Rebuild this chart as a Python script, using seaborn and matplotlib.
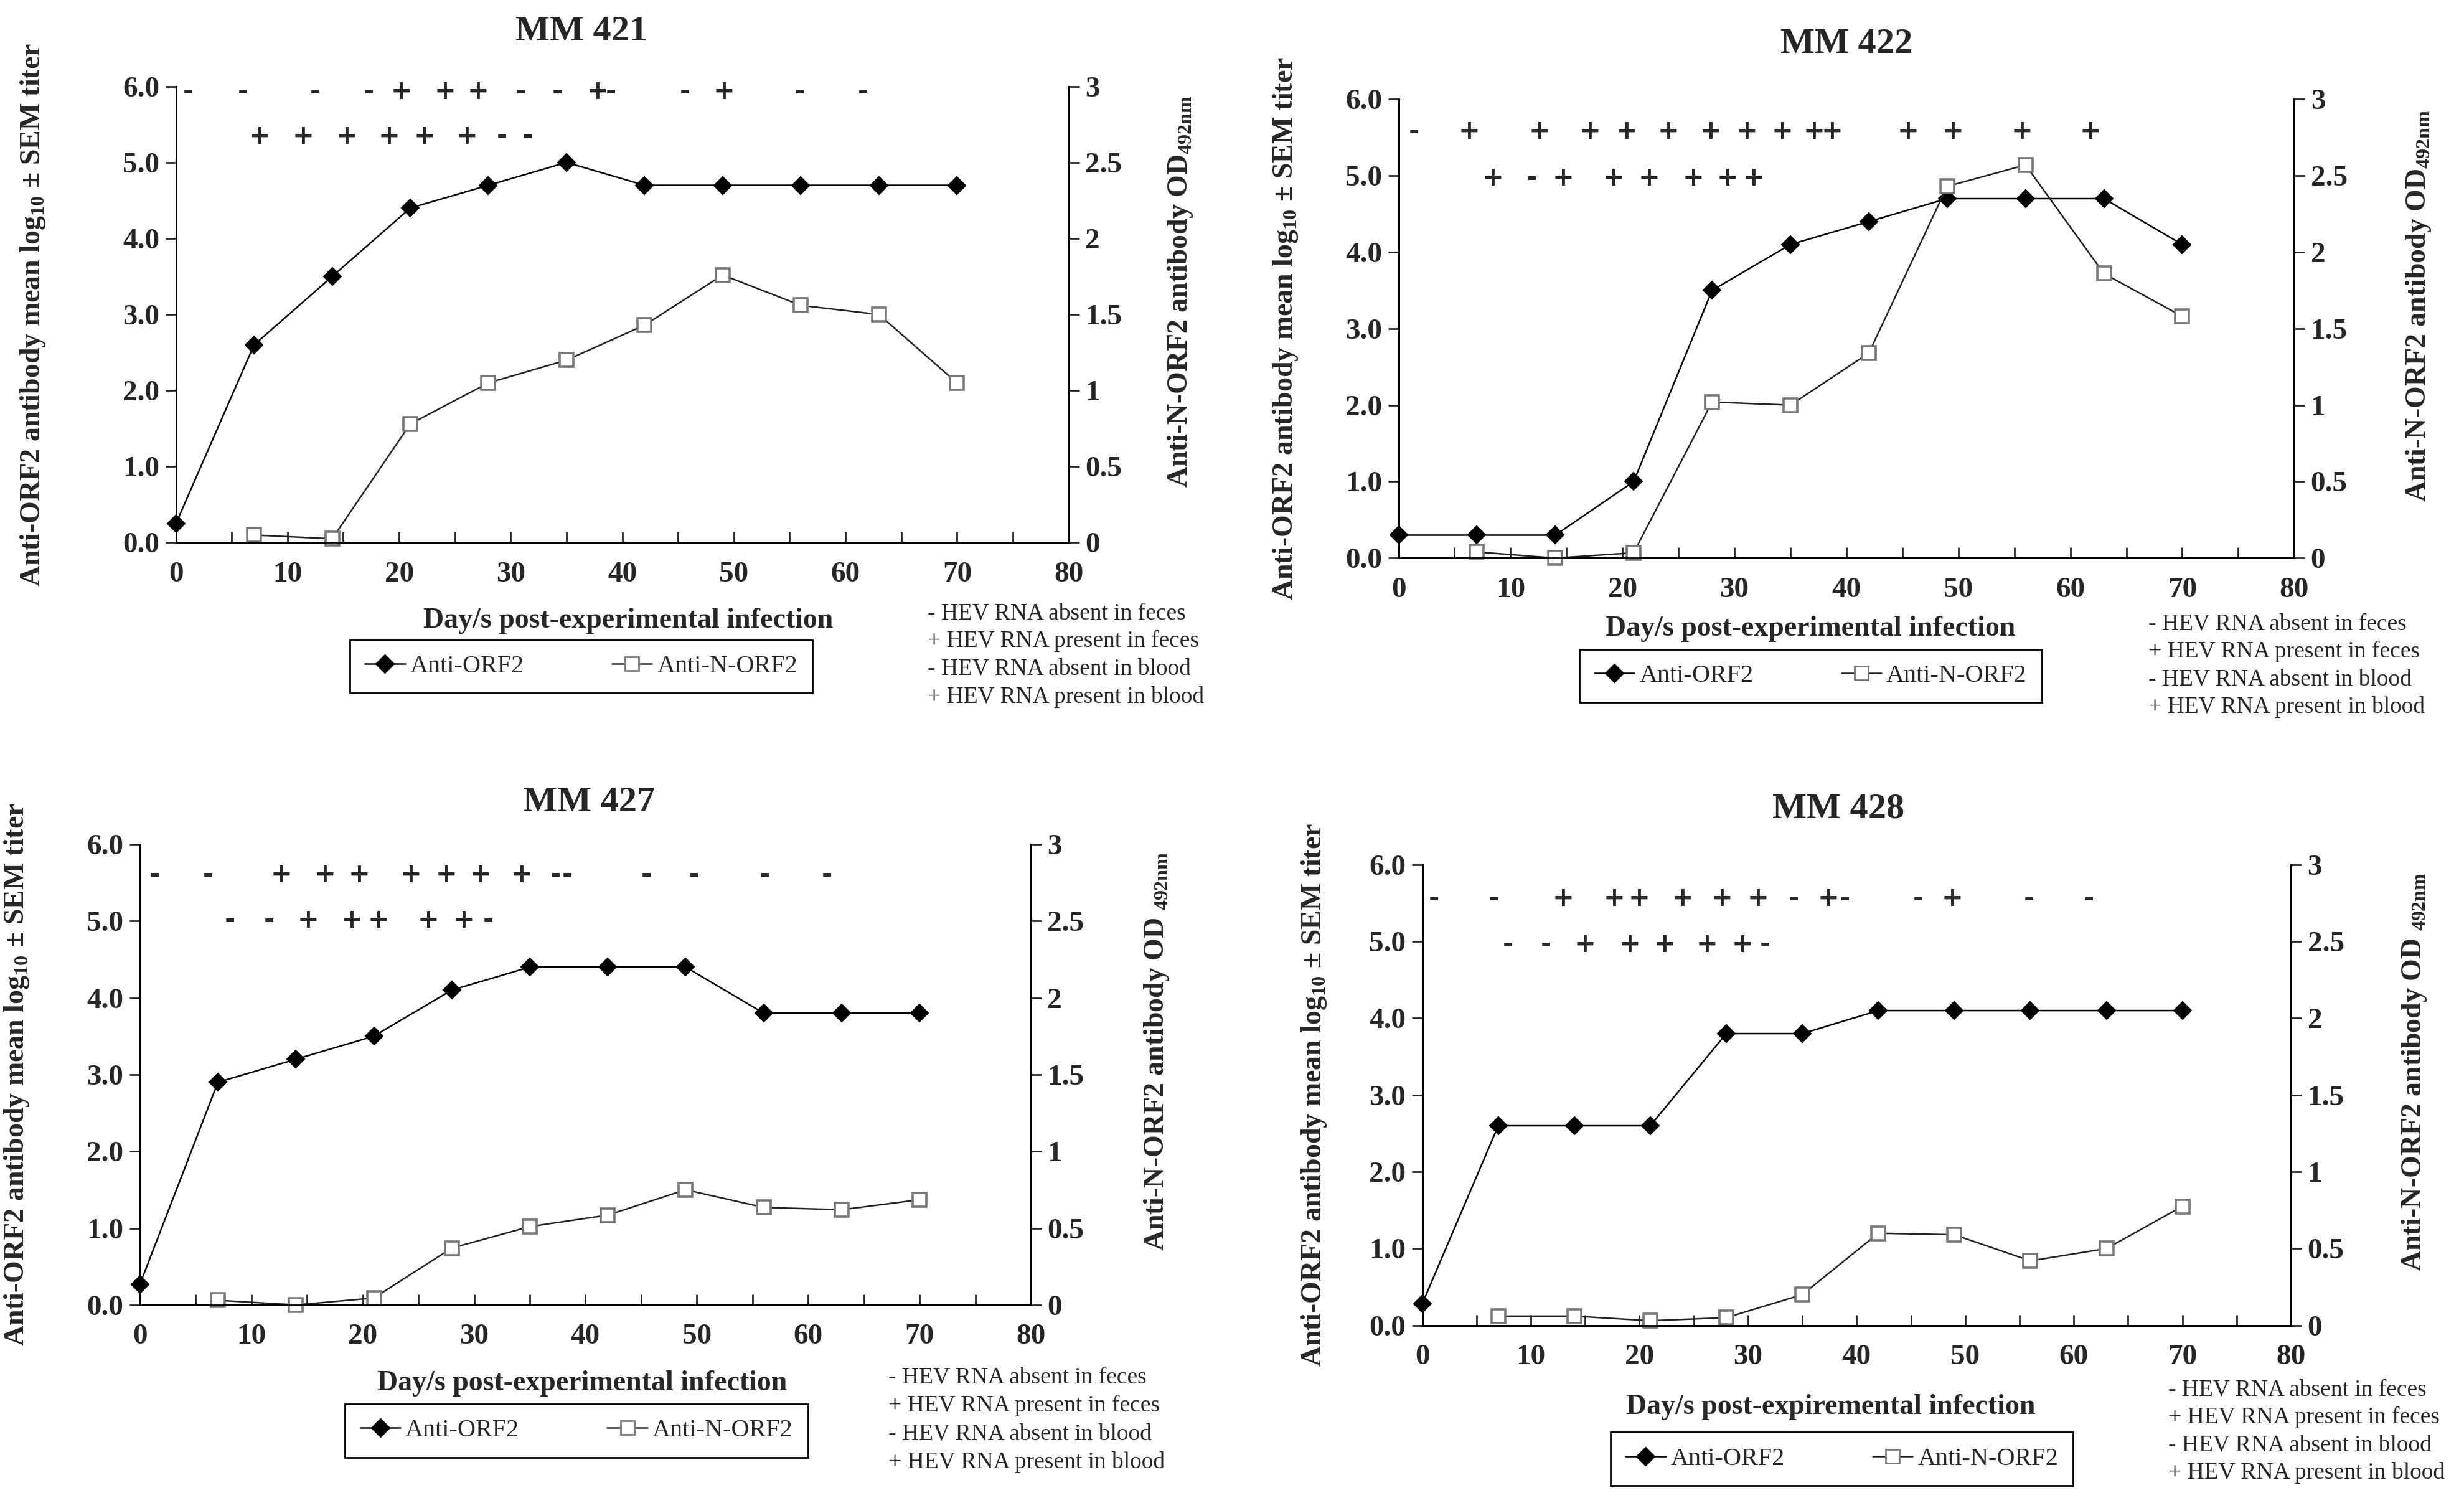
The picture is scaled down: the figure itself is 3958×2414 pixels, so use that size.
import numpy as np
import matplotlib.pyplot as plt
import seaborn as sns
from matplotlib.lines import Line2D

# sampling days
days = [0, 7, 14, 21, 28, 35, 42, 49, 56, 63, 70]
ndays = [7, 14, 21, 28, 35, 42, 49, 56, 63, 70]

# Anti-ORF2 (left axis, log10 titer) and Anti-N-ORF2 (right axis, OD492)
orf2_421 = [0.25, 2.6, 3.5, 4.4, 4.7, 5.0, 4.7, 4.7, 4.7, 4.7, 4.7]
norf2_421 = [0.05, 0.025, 0.78, 1.05, 1.2, 1.43, 1.76, 1.56, 1.5, 1.05]
orf2_422 = [0.3, 0.3, 0.3, 1.0, 3.5, 4.1, 4.4, 4.7, 4.7, 4.7, 4.1]
norf2_422 = [0.04, 0.0, 0.035, 1.02, 1.0, 1.34, 2.43, 2.57, 1.86, 1.58]
orf2_427 = [0.27, 2.9, 3.2, 3.5, 4.1, 4.4, 4.4, 4.4, 3.8, 3.8, 3.8]
norf2_427 = [0.03, 0.0, 0.045, 0.37, 0.51, 0.585, 0.75, 0.635, 0.62, 0.685]
orf2_428 = [0.28, 2.6, 2.6, 2.6, 3.8, 3.8, 4.1, 4.1, 4.1, 4.1, 4.1]
norf2_428 = [0.06, 0.06, 0.03, 0.05, 0.2, 0.6, 0.59, 0.42, 0.5, 0.775]

# HEV RNA in feces (row 1) and blood (row 2): day and sign
feces_421_days = [1.1, 6.0, 12.5, 17.3, 20.2, 24.1, 27.1, 30.9, 34.2, 37.8, 39.0, 45.6, 49.1, 55.9, 61.6]
feces_421 = ["-", "-", "-", "-", "+", "+", "+", "-", "-", "+", "-", "-", "+", "-", "-"]
blood_421_days = [7.5, 11.4, 15.3, 19.1, 22.3, 26.1, 29.2, 31.5]
blood_421 = ["+", "+", "+", "+", "+", "+", "-", "-"]

feces_422_days = [1.4, 6.3, 12.6, 17.1, 20.4, 24.1, 27.9, 31.1, 34.3, 37.1, 38.7, 45.5, 49.5, 55.7, 61.8]
feces_422 = ["-", "+", "+", "+", "+", "+", "+", "+", "+", "+", "+", "+", "+", "+", "+"]
blood_422_days = [8.4, 11.9, 14.7, 19.2, 22.4, 26.3, 29.4, 31.7]
blood_422 = ["+", "-", "+", "+", "+", "+", "+", "+"]

feces_427_days = [1.3, 6.1, 12.7, 16.6, 19.7, 24.3, 27.5, 30.6, 34.3, 37.3, 38.4, 45.5, 49.7, 56.1, 61.7]
feces_427 = ["-", "-", "+", "+", "+", "+", "+", "+", "+", "-", "-", "-", "-", "-", "-"]
blood_427_days = [8.1, 11.6, 15.1, 19.0, 21.4, 25.9, 29.1, 31.3]
blood_427 = ["-", "-", "+", "+", "+", "+", "+", "-"]

feces_428_days = [1.1, 6.6, 13.0, 17.7, 20.0, 24.0, 27.6, 30.9, 34.2, 37.4, 38.9, 45.7, 48.8, 55.9, 61.4]
feces_428 = ["-", "-", "+", "+", "+", "+", "+", "+", "-", "+", "-", "-", "+", "-", "-"]
blood_428_days = [7.9, 11.4, 15.0, 19.1, 22.3, 26.2, 29.5, 31.6]
blood_428 = ["-", "-", "+", "+", "+", "+", "+", "-"]

notes = ["- HEV RNA absent in feces", "+ HEV RNA present in feces",
         "- HEV RNA absent in blood", "+ HEV RNA present in blood"]

sns.set_style("ticks")
plt.rcParams['font.family'] = ['Liberation Serif', 'DejaVu Serif']
plt.rcParams['mathtext.fontset'] = 'custom'
plt.rcParams['mathtext.rm'] = 'Liberation Serif'
plt.rcParams['mathtext.bf'] = 'Liberation Serif:bold'

fig = plt.figure(figsize=(19.79, 12.07), dpi=200)

panels = [
    dict(title="MM 421", orf2=orf2_421, norf2=norf2_421,
         fd=feces_421_days, fs=feces_421, bd=blood_421_days, bs=blood_421, rows=(5.93, 5.34),
         rect=[0.0714, 0.639, 0.3623, 0.3035], title_xy=(0.454, 1.12),
         xl="Day/s post-experimental infection", xl_xy=(0.507, -0.172),
         leg_xy=(0.454, -0.272), note_xy=(0.842, -0.155, -0.338),
         yl_x=(-0.144, 1.109), rlab=r"Anti-N-ORF2 antibody OD$_{\mathbf{492nm}}$"),
    dict(title="MM 422", orf2=orf2_422, norf2=norf2_422,
         fd=feces_422_days, fs=feces_422, bd=blood_422_days, bs=blood_422, rows=(5.58, 4.97),
         rect=[0.5676, 0.6287, 0.3635, 0.3053], title_xy=(0.5, 1.12),
         xl="Day/s post-experimental infection", xl_xy=(0.46, -0.154),
         leg_xy=(0.46, -0.257), note_xy=(0.837, -0.144, -0.325),
         yl_x=(-0.11, 1.123), rlab=r"Anti-N-ORF2 antibody OD$_{\mathbf{492nm}}$"),
    dict(title="MM 427", orf2=orf2_427, norf2=norf2_427,
         fd=feces_427_days, fs=feces_427, bd=blood_427_days, bs=blood_427, rows=(5.6, 5.01),
         rect=[0.0568, 0.1318, 0.3616, 0.3065], title_xy=(0.504, 1.09),
         xl="Day/s post-experimental infection", xl_xy=(0.496, -0.17),
         leg_xy=(0.49, -0.273), note_xy=(0.84, -0.157, -0.341),
         yl_x=(-0.122, 1.125), rlab=r"Anti-N-ORF2 antibody OD $_{\mathbf{492nm}}$"),
    dict(title="MM 428", orf2=orf2_428, norf2=norf2_428,
         fd=feces_428_days, fs=feces_428, bd=blood_428_days, bs=blood_428, rows=(5.56, 4.96),
         rect=[0.5772, 0.1182, 0.3526, 0.3065], title_xy=(0.479, 1.12),
         xl="Day/s post-expiremental infection", xl_xy=(0.47, -0.177),
         leg_xy=(0.483, -0.29), note_xy=(0.859, -0.14, -0.32),
         yl_x=(-0.108, 1.125), rlab=r"Anti-N-ORF2 antibody OD $_{\mathbf{492nm}}$"),
]

for p in panels:
    ax = fig.add_axes(p["rect"])
    sns.lineplot(x=days, y=p["orf2"], ax=ax, color="black", marker="D", markersize=7,
                 markeredgecolor="black", linewidth=0.9)
    ax2 = ax.twinx()
    sns.lineplot(x=ndays, y=p["norf2"], ax=ax2, color="#222222", marker="s", markersize=8,
                 markerfacecolor="white", markeredgecolor="#777777", markeredgewidth=1.3,
                 linewidth=0.9)
    for a in (ax, ax2):
        for ln in a.lines:
            ln.set_clip_on(False)
        a.spines["top"].set_visible(False)
        for s in a.spines.values():
            s.set_linewidth(1.0)
            s.set_color("black")

    ax.set_xlim(0, 80)
    ax.set_ylim(0, 6)
    ax2.set_ylim(0, 3)
    ax.set_xticks(range(0, 81, 10))
    ax.set_xticks(range(5, 80, 10), minor=True)
    ax.set_yticks(np.arange(0, 6.1, 1.0))
    ax.set_yticklabels([f"{v:.1f}" for v in np.arange(0, 6.1, 1.0)])
    ax2.set_yticks([0, 0.5, 1, 1.5, 2, 2.5, 3])
    ax2.set_yticklabels(["0", "0.5", "1", "1.5", "2", "2.5", "3"])
    ax.tick_params(axis="x", which="both", direction="in", length=6, width=1, pad=11,
                   labelsize=17)
    ax.tick_params(axis="y", direction="out", length=6, width=1, labelsize=17)
    ax2.tick_params(axis="y", direction="out", length=6, width=1, labelsize=17)
    for lab in ax.get_xticklabels() + ax.get_yticklabels() + ax2.get_yticklabels():
        lab.set_fontweight("bold")

    ax.set_xlabel("")
    ax.set_ylabel(r"Anti-ORF2 antibody mean log$_{\mathbf{10}}$ ± SEM titer",
                  fontsize=16.5, fontweight="bold")
    ax.yaxis.set_label_coords(p["yl_x"][0], 0.5)
    ax2.set_ylabel(p["rlab"], fontsize=16.5, fontweight="bold")
    ax2.yaxis.set_label_coords(p["yl_x"][1], 0.55)

    ax.text(p["title_xy"][0], p["title_xy"][1], p["title"], transform=ax.transAxes,
            ha="center", va="center", fontsize=21, fontweight="bold")
    ax.text(p["xl_xy"][0], p["xl_xy"][1], p["xl"], transform=ax.transAxes,
            ha="center", va="center", fontsize=16.5, fontweight="bold")

    for d, s in zip(p["fd"], p["fs"]):
        ax.text(d, p["rows"][0], s, ha="center", va="center", fontsize=15,
                family="DejaVu Sans", fontweight="bold")
    for d, s in zip(p["bd"], p["bs"]):
        ax.text(d, p["rows"][1], s, ha="center", va="center", fontsize=15,
                family="DejaVu Sans", fontweight="bold")

    nx, ny0, ny1 = p["note_xy"]
    for i, t in enumerate(notes):
        ax.text(nx, ny0 + (ny1 - ny0) * i / 3, t, transform=ax.transAxes,
                ha="left", va="center", fontsize=13.5)

    handles = [
        Line2D([], [], color="black", marker="D", markersize=7, lw=0.9, label="Anti-ORF2"),
        Line2D([], [], color="#222222", marker="s", markersize=8, markerfacecolor="white",
               markeredgecolor="#777777", lw=0.9, label="Anti-N-ORF2"),
    ]
    leg = ax2.legend(handles=handles, loc="center", bbox_to_anchor=p["leg_xy"], ncol=2,
                     frameon=True, fancybox=False, edgecolor="black", framealpha=1,
                     fontsize=14.5, handlelength=1.6, handletextpad=0.2, columnspacing=3.5,
                     borderpad=0.6, borderaxespad=0)
    leg.get_frame().set_linewidth(1.0)

fig.savefig("out.png", dpi=200, facecolor="white")
